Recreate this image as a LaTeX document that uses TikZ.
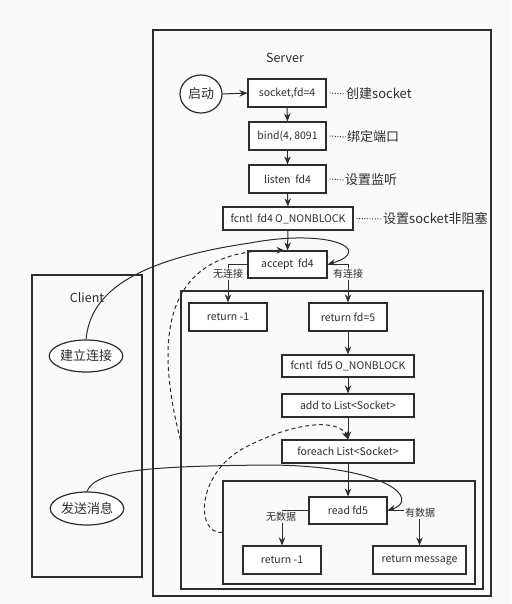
\documentclass[tikz,border=0pt]{standalone}
\usepackage{fontspec}
\setmainfont{Noto Sans CJK SC}
\usetikzlibrary{arrows.meta,shapes.geometric}
\definecolor{bg}{RGB}{250,250,250}
\definecolor{ln}{RGB}{45,45,45}
\begin{document}
\begin{tikzpicture}[x=1pt,y=-1pt,
  cont/.style={draw=ln, line width=1.2pt, inner sep=0pt},
  box/.style={draw=ln, line width=1.2pt, fill=white, minimum height=28pt, inner sep=0pt, text=ln, font=\fontsize{10.5}{12}\selectfont},
  ell/.style={ellipse, draw=ln, line width=1.2pt, fill=white, inner sep=0pt, text=ln, font=\fontsize{13}{15}\selectfont},
  title/.style={text=ln, inner sep=0pt, font=\fontsize{12.5}{15}\selectfont},
  lab/.style={text=ln, inner sep=0pt, anchor=west, font=\fontsize{13}{15}\selectfont},
  blab/.style={text=ln, fill=bg, inner sep=1pt, font=\fontsize{10}{12}\selectfont},
  arr/.style={draw=ln, line width=1pt, -{Stealth[length=8pt,width=6.5pt]}},
  lead/.style={draw=ln, line width=0.9pt, dash pattern=on 1pt off 1.6pt},
  dsh/.style={dash pattern=on 4pt off 3pt}]
\fill[bg] (0,0) rectangle (511,604);
\useasboundingbox (0,0) rectangle (511,604);
% containers
\node[cont, minimum width=338pt, minimum height=566pt] (server) at (322,313) {};
\node[cont, minimum width=110pt, minimum height=302pt] (client) at (87,426) {};
\node[cont, minimum width=302pt, minimum height=298pt] (inner) at (332,440) {};
\node[cont, minimum width=252pt, minimum height=103pt] (inner2) at (349,532.5) {};
\node[title] (stitle) at (285,58) {Server};
\node[title] (ctitle) at (87,298) {Client};
% server nodes
\node[ell, minimum width=42pt, minimum height=38pt] (start) at (201,94) {启动};
\node[box, minimum width=78pt] (socket) at (287,93) {socket,fd=4};
\node[box, minimum width=77pt] (bind) at (287.5,136) {bind(4, 8091};
\node[box, minimum width=77pt] (listen) at (287.5,179) {listen~~fd4};
\node[box, minimum width=130pt, minimum height=23pt] (fcntl4) at (288,218.5) {fcntl~~fd4 O\_NONBLOCK};
\node[box, minimum width=79pt, minimum height=27pt] (accept) at (287.5,264.5) {accept~~fd4};
\node[box, minimum width=78pt] (ret1) at (228,317) {return -1};
\node[box, minimum width=78pt] (retfd) at (348,317) {return fd=5};
\node[box, minimum width=132pt, minimum height=22pt] (fcntl5) at (348,366) {fcntl~~fd5 O\_NONBLOCK};
\node[box, minimum width=132pt, minimum height=23pt] (add) at (348,405.5) {add to List<Socket>};
\node[box, minimum width=132pt, minimum height=23pt] (foreach) at (348,451.5) {foreach List<Socket>};
\node[box, minimum width=78pt, minimum height=27pt] (read) at (348,510.5) {read fd5};
\node[box, minimum width=78pt] (ret2) at (282,560) {return -1};
\node[box, minimum width=93pt] (retmsg) at (419.5,560) {return message};
% client nodes
\node[ell, minimum width=66pt, minimum height=32pt] (conn) at (86,356) {建立连接};
\node[ell, minimum width=66pt, minimum height=33pt] (send) at (87,508.5) {发送消息};
% leader labels
\node[lab] (l1) at (346,94) {创建socket};
\node[lab] (l2) at (347,137) {绑定端口};
\node[lab] (l3) at (345,180) {设置监听};
\node[lab] (l4) at (383,219) {设置socket非阻塞};
\draw[lead] ([xshift=3pt]socket.east) -- ([xshift=-1pt]l1.west);
\draw[lead] ([xshift=3pt]bind.east) -- ([xshift=-1pt]l2.west);
\draw[lead] ([xshift=3pt]listen.east) -- ([xshift=-1pt]l3.west);
\draw[lead] ([xshift=3pt]fcntl4.east) -- ([xshift=-1pt]l4.west);
% main flow
\draw[arr] (start.east) -- (socket.west);
\draw[arr] (socket.south) -- (bind.north);
\draw[arr] (bind.south) -- (listen.north);
\draw[arr] (listen.south) -- (fcntl4.north);
\draw[arr] (fcntl4.south) -- (accept.north);
\draw[arr] (accept.west) -| (ret1.north);
\draw[arr] (accept.east) -| (retfd.north);
\draw[arr] (retfd.south) -- (fcntl5.north);
\draw[arr] (fcntl5.south) -- (add.north);
\draw[arr] (add.south) -- (foreach.north);
\draw[arr] (foreach.south) -- (read.north);
\draw[arr] (read.west) -| (ret2.north);
\draw[arr] (read.east) -| (retmsg.north);
\node[blab] (b1) at (228,274) {无连接};
\node[blab] (b2) at (348,274) {有连接};
\node[blab] (b3) at (281,517) {无数据};
\node[blab] (b4) at (420,513) {有数据};
% curves
\draw[arr] (conn.north) .. controls (90,300) and (120,262) .. (250,243) .. controls (330,228) and (375,250) .. (accept.east);
\draw[arr, dsh] (inner.west) .. controls (155,340) and (160,248) .. ([xshift=-3pt]accept.north);
\draw[arr, dsh] (inner2.west) .. controls (195,535) and (195,470) .. (250,445) .. controls (300,420) and (340,420) .. (foreach.north);
\draw[arr] (send.north) .. controls (95,470) and (150,466) .. (270,465) .. controls (390,466) and (420,500) .. (read.east);
\end{tikzpicture}
\end{document}
